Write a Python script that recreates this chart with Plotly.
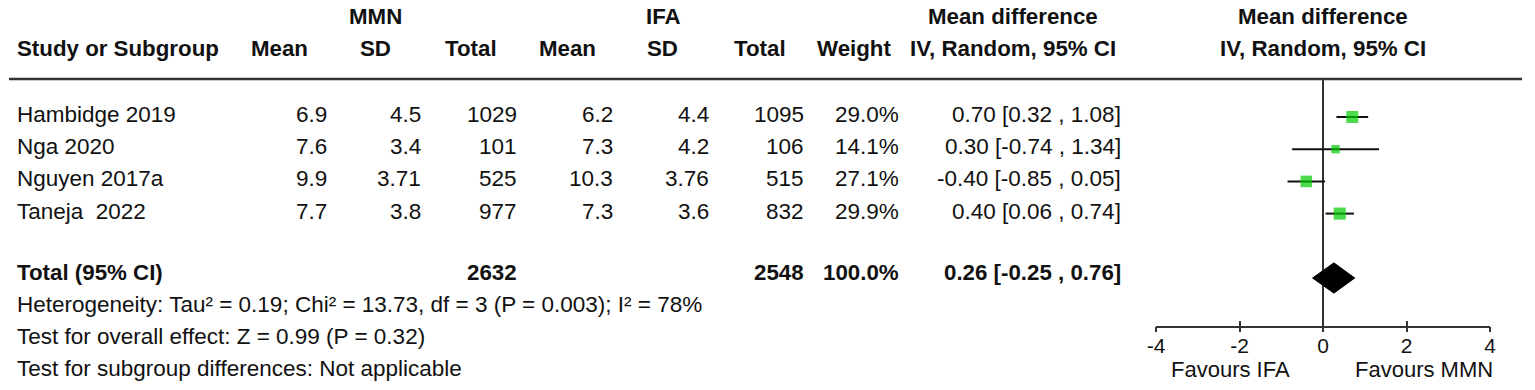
import math
import plotly.graph_objects as go

# ---------------- data ----------------
studies = ["Hambidge 2019", "Nga 2020", "Nguyen 2017a", "Taneja  2022"]
mmn_mean = ["6.9", "7.6", "9.9", "7.7"]
mmn_sd = ["4.5", "3.4", "3.71", "3.8"]
mmn_total = ["1029", "101", "525", "977"]
ifa_mean = ["6.2", "7.3", "10.3", "7.3"]
ifa_sd = ["4.4", "4.2", "3.76", "3.6"]
ifa_total = ["1095", "106", "515", "832"]
weights = [29.0, 14.1, 27.1, 29.9]
md = [0.70, 0.30, -0.40, 0.40]
ci_lo = [0.32, -0.74, -0.85, 0.06]
ci_hi = [1.08, 1.34, 0.05, 0.74]

total_mmn = "2632"
total_ifa = "2548"
total_weight = "100.0%"
pooled_md = 0.26
pooled_lo = -0.25
pooled_hi = 0.76

footer_lines = [
    "Heterogeneity: Tau² = 0.19; Chi² = 13.73, df = 3 (P = 0.003); I² = 78%",
    "Test for overall effect: Z = 0.99 (P = 0.32)",
    "Test for subgroup differences: Not applicable",
]
axis_ticks = [-4, -2, 0, 2, 4]
favours = ["Favours IFA", "Favours MMN"]

# ---------------- layout constants ----------------
W, H = 1535, 390
FONT = "Arial, Liberation Sans, sans-serif"
TXT = "#111111"
LINE = "#333333"
FS = 22.5
FSB = 22.3
FSA = 22
FST = 21
ROW0_PX, ROW_PX = 117.0, 32.2


def px_to_row(py):
    return (py - ROW0_PX) / ROW_PX


rows = list(range(len(studies)))
total_row = len(studies) + 1

fig = go.Figure()

# ---------------- forest plot ----------------
sizes = [2.22 * math.sqrt(w) for w in weights]
fig.add_trace(go.Scatter(
    x=md, y=rows, mode="markers", xaxis="x2", yaxis="y2",
    marker=dict(symbol="square", color="#00CC00", size=sizes, line=dict(width=0)),
    error_x=dict(type="data", symmetric=False,
                 array=[h - m for h, m in zip(ci_hi, md)],
                 arrayminus=[m - l for m, l in zip(md, ci_lo)],
                 color="#111111", thickness=2, width=0),
    hoverinfo="skip", showlegend=False,
))
dh = 0.47
fig.add_trace(go.Scatter(
    x=[pooled_lo, pooled_md, pooled_hi, pooled_md, pooled_lo],
    y=[total_row, total_row - dh, total_row, total_row + dh, total_row],
    mode="lines", fill="toself", fillcolor="#000000",
    line=dict(color="#000000", width=1), xaxis="x3", yaxis="y2",
    hoverinfo="skip", showlegend=False,
))

ann = []


def add_text(x, y, text, anchor="right", bold=False, size=None, xref="x", yref="y"):
    if size is None:
        size = FSB if bold else FS
    ann.append(dict(x=x, y=y, xref=xref, yref=yref, text=("<b>%s</b>" % text) if bold else text,
                    showarrow=False, xanchor=anchor, yanchor="middle",
                    font=dict(family=FONT, size=size, color=TXT)))


# headers
hdr1 = px_to_row(16)
hdr2 = px_to_row(48)
add_text(370, hdr1, "MMN", "center", True)
add_text(661, hdr1, "IFA", "center", True)
add_text(1014, hdr1, "Mean difference", "center", True)
add_text(1327, hdr1, "Mean difference", "center", True)
add_text(6, hdr2, "Study or Subgroup", "left", True)
for cx, t in [(273, "Mean"), (370, "SD"), (467, "Total"), (564, "Mean"), (660, "SD"),
              (758, "Total"), (853, "Weight"), (1014, "IV, Random, 95% CI"),
              (1327, "IV, Random, 95% CI")]:
    add_text(cx, hdr2, t, "center", True)

# study rows
for i, r in enumerate(rows):
    ry = r - 0.08
    add_text(6, ry, studies[i], "left")
    add_text(323, ry, mmn_mean[i])
    add_text(418, ry, mmn_sd[i])
    add_text(515, ry, mmn_total[i])
    add_text(612, ry, ifa_mean[i])
    add_text(709, ry, ifa_sd[i])
    add_text(805, ry, ifa_total[i])
    add_text(901, ry, "%.1f%%" % weights[i])
    add_text(1125, ry, "%.2f [%.2f , %.2f]" % (md[i], ci_lo[i], ci_hi[i]))

# total row
ty = total_row - 0.18
add_text(6, ty, "Total (95% CI)", "left", True)
add_text(515, ty, total_mmn, bold=True)
add_text(805, ty, total_ifa, bold=True)
add_text(901, ty, total_weight, bold=True)
add_text(1125, ty, "%.2f [%.2f , %.2f]" % (pooled_md, pooled_lo, pooled_hi), bold=True)

# footer
for k, line in enumerate(footer_lines):
    add_text(6, px_to_row(304 + 32 * k), line, "left")

# favours labels
add_text(-2.21, 1 - 369 / H, favours[0], "center", size=FSA, xref="x2", yref="paper")
add_text(2.42, 1 - 369 / H, favours[1], "center", size=FSA, xref="x2", yref="paper")

x_dom = [1158.3 / W, 1495.7 / W]
y2_dom = [1 - 326 / H, 1 - 79 / H]

fig.update_layout(
    width=W, height=H, margin=dict(l=0, r=0, t=0, b=0),
    paper_bgcolor="white", plot_bgcolor="rgba(0,0,0,0)",
    showlegend=False, annotations=ann,
    xaxis=dict(range=[0, W], domain=[0, 1], visible=False, fixedrange=True),
    yaxis=dict(range=[px_to_row(H), px_to_row(0)], domain=[0, 1], visible=False, fixedrange=True),
    xaxis2=dict(range=[-4, 4], domain=x_dom, anchor="y2", showgrid=False,
                showline=True, linecolor=LINE, linewidth=2,
                zeroline=True, zerolinecolor=LINE, zerolinewidth=2,
                tickmode="array", tickvals=axis_ticks, ticktext=[str(t) for t in axis_ticks],
                ticks="inside", ticklen=5, tickwidth=2, tickcolor=LINE,
                tickfont=dict(family=FONT, size=FST, color=TXT)),
    xaxis3=dict(range=[-4, 4], domain=x_dom, anchor="y2", overlaying="x2", showgrid=False,
                showline=False, zeroline=False, tickmode="array", tickvals=axis_ticks,
                ticks="outside", ticklen=5, tickwidth=2, tickcolor=LINE, showticklabels=False),
    yaxis2=dict(range=[px_to_row(326), px_to_row(79)], domain=y2_dom, anchor="x2",
                visible=False, showgrid=False, zeroline=False),
    shapes=[dict(type="line", xref="paper", yref="y2 domain", x0=0, x1=1528 / W, y0=1, y1=1,
                 line=dict(color=LINE, width=2.5))],
)

fig.write_html("out.html", config={"displayModeBar": False},
               post_script="document.body.style.margin='0';")
